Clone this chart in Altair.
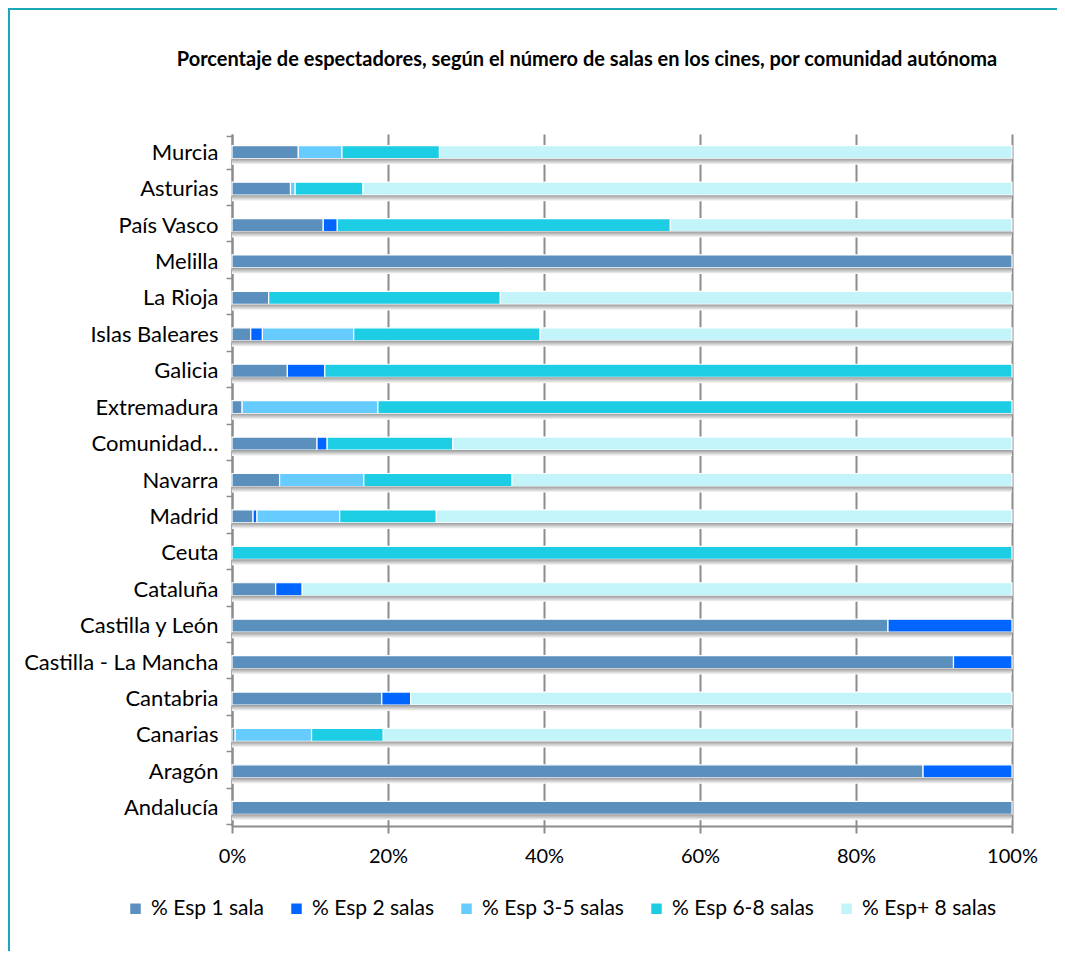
import altair as alt
import pandas as pd

categories = ["Murcia", "Asturias", "País Vasco", "Melilla", "La Rioja", "Islas Baleares",
              "Galicia", "Extremadura", "Comunidad…", "Navarra", "Madrid", "Ceuta",
              "Cataluña", "Castilla y León", "Castilla - La Mancha", "Cantabria",
              "Canarias", "Aragón", "Andalucía"]
series = ["% Esp 1 sala", "% Esp 2 salas", "% Esp 3-5 salas", "% Esp 6-8 salas", "% Esp+ 8 salas"]
colors = ["#5B8FBE", "#0066FF", "#66CCFF", "#1DCDE3", "#C2F4FA"]
title_text = "Porcentaje de espectadores, según el número de salas en los cines, por comunidad autónoma"

esp_1 = [8.5, 7.5, 11.7, 100, 4.7, 2.4, 7.1, 1.3, 10.9, 6.1, 2.7, 0, 5.6, 84.1, 92.5, 19.2, 0.4, 88.6, 100]
esp_2 = [0, 0, 1.8, 0, 0, 1.5, 4.8, 0, 1.3, 0, 0.5, 0, 3.4, 15.9, 7.5, 3.7, 0, 11.4, 0]
esp_3_5 = [5.6, 0.6, 0, 0, 0, 11.7, 0, 17.4, 0, 10.8, 10.6, 0, 0, 0, 0, 0, 9.8, 0, 0]
esp_6_8 = [12.5, 8.7, 42.7, 0, 29.7, 23.9, 88.1, 81.3, 16.1, 19.0, 12.4, 100, 0, 0, 0, 0, 9.2, 0, 0]
esp_8 = [73.4, 83.2, 43.8, 0, 65.6, 60.5, 0, 0, 71.7, 64.1, 73.8, 0, 91.0, 0, 0, 77.1, 80.6, 0, 0]

rows = []
for i, c in enumerate(categories):
    for k, vals in enumerate([esp_1, esp_2, esp_3_5, esp_6_8, esp_8]):
        if vals[i] > 0:
            rows.append({"cat": c, "serie": series[k], "ord": k, "val": vals[i]})
df = pd.DataFrame(rows)
df_cat = pd.DataFrame({"cat": categories, "full": [1.0] * len(categories)})

FONT = "Lato"
W, H = 780, 692

ysc = alt.Scale(domain=categories)
xsc = alt.Scale(domain=[0, 1])

bars = alt.Chart(df).mark_bar(size=13, stroke="white", strokeWidth=1.2).encode(
    y=alt.Y("cat:N", scale=ysc, title=None,
            axis=alt.Axis(labelFont=FONT, labelFontSize=22, labelColor="#000000",
                          labelPadding=8, tickBand="extent", tickSize=6,
                          tickColor="#8c8c8c", tickWidth=1.5,
                          domainColor="#8c8c8c", domainWidth=2, grid=False,
                          labelLimit=300)),
    x=alt.X("val:Q", stack="normalize", scale=xsc, title=None,
            axis=alt.Axis(format=".0%", values=[0, 0.2, 0.4, 0.6, 0.8, 1.0],
                          labelFont=FONT, labelFontSize=20, labelColor="#000000",
                          labelFlush=False,
                          labelPadding=13, tickSize=7, tickColor="#8c8c8c", tickWidth=2,
                          domainColor="#8c8c8c", domainWidth=2,
                          grid=True, gridColor="#8c8c8c", gridWidth=2)),
    color=alt.Color("serie:N", scale=alt.Scale(domain=series, range=colors),
                    legend=alt.Legend(title=None, orient="none", direction="horizontal",
                                      legendX=-107, legendY=764,
                                      symbolType="square", symbolSize=110,
                                      symbolStrokeWidth=0, labelFont=FONT,
                                      labelFontSize=21, labelColor="#000000",
                                      labelOffset=5, columnPadding=22,
                                      labelLimit=300)),
    order=alt.Order("ord:Q"),
)

shadow = alt.Chart(df_cat).mark_bar(
    size=6, yOffset=9.5,
    color=alt.Gradient(gradient="linear", x1=0, y1=0, x2=0, y2=1,
                       stops=[alt.GradientStop(offset=0, color="#9a9a9a"),
                              alt.GradientStop(offset=1, color="#ffffff")])
).encode(
    y=alt.Y("cat:N", scale=ysc),
    x=alt.X("full:Q", scale=xsc),
)

one = pd.DataFrame({"t": [title_text]})

title = alt.Chart(one).mark_text(
    font=FONT, fontSize=20, fontWeight="bold", color="#000000",
    align="center", baseline="middle"
).encode(text="t:N", x=alt.value(355), y=alt.value(-74))

frame = alt.Chart(one).mark_rect(
    fill=None, stroke="#1AA7B8", strokeWidth=2
).encode(
    x=alt.value(-223), x2=alt.value(900),
    y=alt.value(-125), y2=alt.value(900),
)

chart = alt.layer(bars, shadow, title, frame).properties(
    width=W, height=H,
    autosize=alt.AutoSizeParams(type="none"),
    padding={"left": 224, "top": 126, "right": 45, "bottom": 125},
).configure_view(stroke=None)

chart.save("out.html", embed_options={"renderer": "svg", "actions": False})
